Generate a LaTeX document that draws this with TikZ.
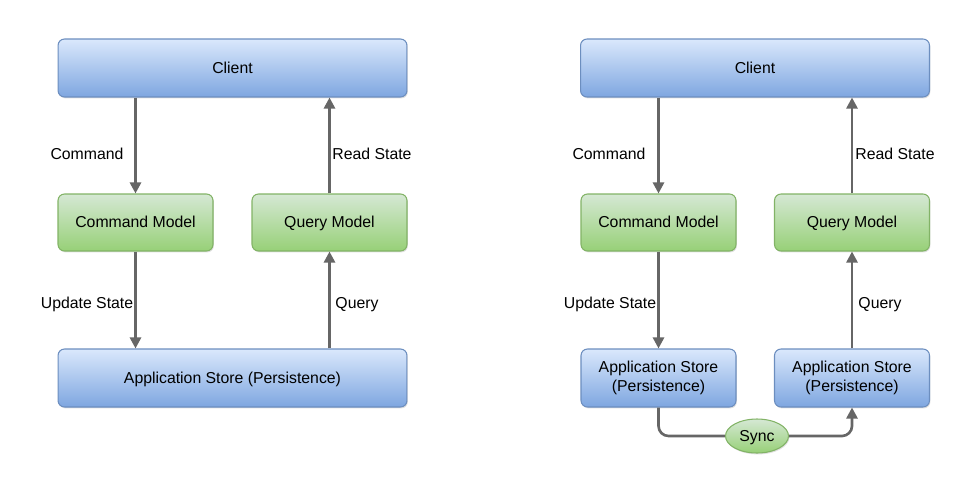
\documentclass[tikz,border=0pt]{standalone}
\usepackage{fontspec}
\setmainfont{Liberation Sans}
\usetikzlibrary{arrows.meta,shapes.geometric,shadows}
\definecolor{bluetop}{HTML}{DAE8FC}
\definecolor{bluebot}{HTML}{7EA6E0}
\definecolor{blueline}{HTML}{6C8EBF}
\definecolor{greentop}{HTML}{D5E8D4}
\definecolor{greenbot}{HTML}{97D077}
\definecolor{greenline}{HTML}{82B366}
\definecolor{flowgray}{HTML}{666666}

\begin{document}
\begin{tikzpicture}[x=0.02cm, y=-0.02cm,
  every node/.style={font=\fontsize{9}{10.8}\selectfont},
  box/.style={rounded corners=0.13cm, line width=0.6pt, align=center,
    drop shadow={shadow xshift=0.5pt, shadow yshift=-0.8pt, opacity=0.25}},
  oneline/.style={text height=1.55ex, text depth=0.4ex},
  bluebox/.style={box, draw=blueline, top color=bluetop, bottom color=bluebot},
  greenbox/.style={box, draw=greenline, top color=greentop, bottom color=greenbot},
  wide/.style={minimum width=6.98cm, minimum height=1.16cm},
  small/.style={minimum width=3.1cm, minimum height=1.14cm},
  flow/.style={draw=flowgray, line width=1.5pt, -{Triangle[length=0.22cm, width=0.22cm]}},
  lbl/.style={oneline, inner sep=1pt}]
\useasboundingbox (0,0) rectangle (980,497);

\node[bluebox, wide, oneline] (clientA) at (232.5,68) {Client};
\node[greenbox, small, oneline] (cmdA) at (135.5,222.5) {Command Model};
\node[greenbox, small, oneline] (qryA) at (329.5,222.5) {Query Model};
\node[bluebox, wide, oneline] (storeA) at (232.5,378) {Application Store (Persistence)};

\draw[flow] (cmdA.north |- clientA.south) -- (cmdA.north);
\draw[flow] (qryA.north) -- (qryA.north |- clientA.south);
\draw[flow] (cmdA.south) -- (cmdA.south |- storeA.north);
\draw[flow] (qryA.south |- storeA.north) -- (qryA.south);

\node[lbl] (cmdlblA) at (87,154) {Command};
\node[lbl] (readlblA) at (372,154) {Read State};
\node[lbl] (updlblA) at (87,303) {Update State};
\node[lbl] (qrylblA) at (357,303) {Query};

\node[bluebox, wide, oneline] (clientB) at (755,68) {Client};
\node[greenbox, small, oneline] (cmdB) at (658.5,222.5) {Command Model};
\node[greenbox, small, oneline] (qryB) at (852,222.5) {Query Model};
\node[bluebox, small, minimum height=1.16cm] (storeB) at (658.5,378) {Application Store\\(Persistence)};
\node[bluebox, small, minimum height=1.16cm] (storeC) at (852,378) {Application Store\\(Persistence)};
\node[greenbox, ellipse, oneline, minimum width=1.26cm, minimum height=0.68cm, inner sep=0pt] (sync) at (757,436) {Sync};

\draw[flow] (cmdB.north |- clientB.south) -- (cmdB.north);
\draw[flow] (qryB.north) -- (qryB.north |- clientB.south);
\draw[flow] (cmdB.south) -- (storeB.north);
\draw[flow] (storeC.north) -- (qryB.south);
\draw[draw=flowgray, line width=1.5pt, rounded corners=0.2cm] (storeB.south) |- (sync.west);
\draw[flow, rounded corners=0.2cm] (sync.east) -| (storeC.south);

\node[lbl] (cmdlblB) at (609,154) {Command};
\node[lbl] (readlblB) at (895,154) {Read State};
\node[lbl] (updlblB) at (610,303) {Update State};
\node[lbl] (qrylblB) at (880,303) {Query};
\end{tikzpicture}
\end{document}
